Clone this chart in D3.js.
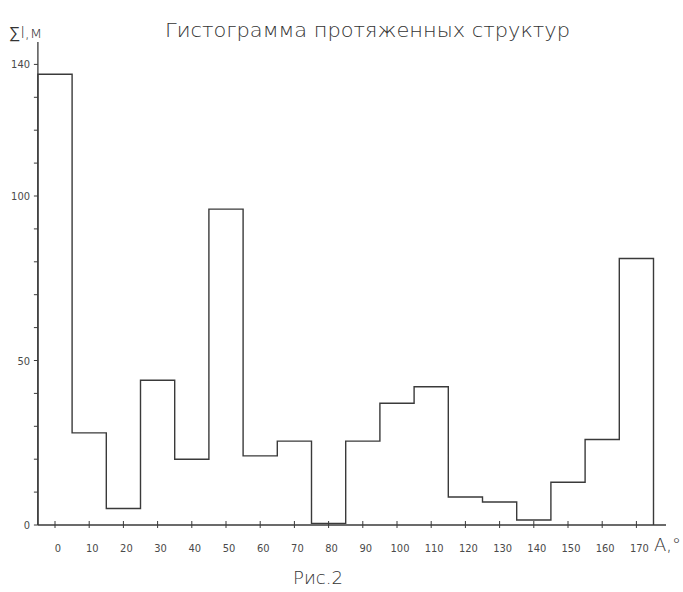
<!DOCTYPE html>
<html>
<head>
<meta charset="utf-8">
<script src="https://cdn.jsdelivr.net/npm/d3@7"></script>
<style>
  body { margin: 0; background: #fff; }
  svg { display: block; }
  text { font-family: "DejaVu Sans Condensed", "DejaVu Sans", sans-serif; fill: #4a4a4a; }
  .light { font-family: "DejaVu Sans", sans-serif; font-weight: 200; fill: #333; }
</style>
</head>
<body>
<svg id="chart" width="683" height="592"></svg>
<script>
// bin centres (degrees), bin width 10
const binCenters = [0, 10, 20, 30, 40, 50, 60, 70, 80, 90, 100, 110, 120, 130, 140, 150, 160, 170];
const lengths = [137, 28, 5, 44, 20, 96, 21, 25.5, 0.5, 25.5, 37, 42, 8.5, 7, 1.5, 13, 26, 81];
const xTicks = [0, 10, 20, 30, 40, 50, 60, 70, 80, 90, 100, 110, 120, 130, 140, 150, 160, 170];
const yTickLabels = [0, 50, 100, 140];
const yTicksMinor = d3.range(0, 141, 10);

const svg = d3.select("#chart");

const x = d3.scaleLinear().domain([0, 170]).range([55, 636.4]);
const y = d3.scaleLinear().domain([0, 140]).range([525, 64.4]);

const ink = "#3a3a3a";

// x axis line
svg.append("line")
  .attr("x1", x(-5)).attr("x2", 666)
  .attr("y1", y(0)).attr("y2", y(0))
  .attr("stroke", ink).attr("stroke-width", 1.3);

// y axis line
svg.append("line")
  .attr("x1", x(-5)).attr("x2", x(-5))
  .attr("y1", y(0)).attr("y2", 42)
  .attr("stroke", ink).attr("stroke-width", 1.3);

// x ticks
svg.selectAll(".xt")
  .data(xTicks)
  .enter().append("line")
  .attr("x1", d => x(d)).attr("x2", d => x(d))
  .attr("y1", y(0) - 4).attr("y2", y(0) + 3)
  .attr("stroke", ink).attr("stroke-width", 1);

svg.selectAll(".xl")
  .data(xTicks)
  .enter().append("text")
  .attr("x", d => x(d) + 3)
  .attr("y", 552)
  .attr("text-anchor", "middle")
  .attr("font-size", 11)
  .text(d => d);

// y ticks
svg.selectAll(".yt")
  .data(yTicksMinor)
  .enter().append("line")
  .attr("x1", x(-5) - 4).attr("x2", x(-5))
  .attr("y1", d => y(d)).attr("y2", d => y(d))
  .attr("stroke", ink).attr("stroke-width", 1);

svg.selectAll(".yl")
  .data(yTickLabels)
  .enter().append("text")
  .attr("x", 30)
  .attr("y", d => y(d) + 4)
  .attr("text-anchor", "end")
  .attr("font-size", 11)
  .text(d => d);

// histogram outline (steps)
const pts = [[-5, 0]];
binCenters.forEach((c, i) => {
  pts.push([c - 5, lengths[i]]);
  pts.push([c + 5, lengths[i]]);
});
pts.push([175, 0]);

const line = d3.line()
  .x(d => x(d[0]))
  .y(d => y(d[1]));

svg.append("path")
  .attr("d", line(pts))
  .attr("fill", "none")
  .attr("stroke", ink)
  .attr("stroke-width", 1.4);

// titles
svg.append("text")
  .attr("class", "light")
  .attr("x", 165).attr("y", 37)
  .attr("font-size", 20)
  .attr("textLength", 405)
  .attr("lengthAdjust", "spacingAndGlyphs")
  .text("Гистограмма протяженных структур");

svg.append("text")
  .attr("class", "light")
  .attr("x", 9).attr("y", 38)
  .attr("font-size", 16)
  .text("∑l,м");

svg.append("text")
  .attr("class", "light")
  .attr("x", 681).attr("y", 551)
  .attr("text-anchor", "end")
  .attr("font-size", 18)
  .text("A,°");

svg.append("text")
  .attr("class", "light")
  .attr("x", 318).attr("y", 584)
  .attr("text-anchor", "middle")
  .attr("font-size", 18)
  .text("Рис.2");
</script>
</body>
</html>
